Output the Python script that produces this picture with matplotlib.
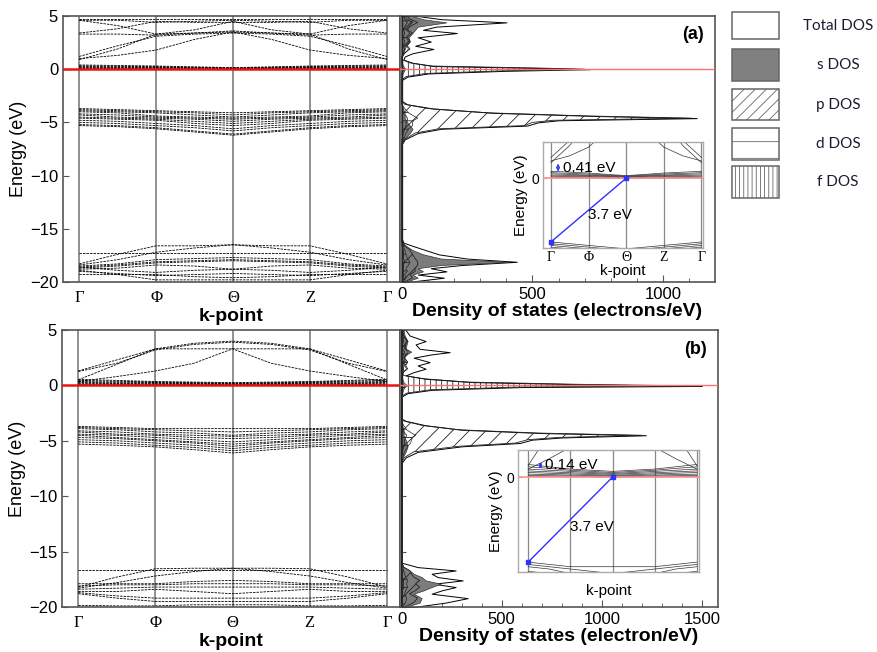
import numpy as np
import matplotlib
matplotlib.use("Agg")
import matplotlib.pyplot as plt
from matplotlib.patches import Rectangle

plt.rcParams["font.family"] = ["Liberation Sans", "DejaVu Sans"]
plt.rcParams["hatch.linewidth"] = 0.6

# k-path
kpath = [0, 0.5, 1, 1.5, 2, 2.5, 3, 3.5, 4]
klabels = ["\u0393", "\u03a6", "\u0398", "Z", "\u0393"]
kticks = [0, 1, 2, 3, 4]

# band energies (eV) along the path, panel (a)
bands_a = [
    [0.9, 1.9, 3.3, 3.4, 3.5, 3.4, 3.3, 1.9, 0.9],
    [1.2, 2.2, 3.1, 3.3, 3.4, 3.3, 3.1, 2.2, 1.2],
    [1.0, 1.3, 1.8, 2.8, 3.5, 2.8, 1.8, 1.3, 1.0],
    [3.3, 3.3, 3.2, 3.4, 3.6, 3.4, 3.2, 3.3, 3.3],
    [4.6, 4.6, 4.4, 4.5, 4.6, 4.5, 4.4, 4.6, 4.6],
    [4.7, 4.7, 4.7, 4.7, 4.7, 4.7, 4.7, 4.7, 4.7],
    [3.4, 3.8, 4.5, 4.4, 4.4, 4.4, 4.5, 3.8, 3.4],
    [4.6, 4.1, 3.3, 3.7, 4.5, 3.7, 3.3, 4.1, 4.6],
    [0.40, 0.35, 0.30, 0.22, 0.15, 0.22, 0.30, 0.35, 0.40],
    [0.32, 0.28, 0.24, 0.18, 0.12, 0.18, 0.24, 0.28, 0.32],
    [0.25, 0.22, 0.18, 0.14, 0.10, 0.14, 0.18, 0.22, 0.25],
    [0.18, 0.16, 0.14, 0.11, 0.07, 0.11, 0.14, 0.16, 0.18],
    [0.12, 0.10, 0.09, 0.07, 0.04, 0.07, 0.09, 0.10, 0.12],
    [0.06, 0.05, 0.05, 0.03, 0.01, 0.03, 0.05, 0.05, 0.06],
    [0.02, 0.02, 0.01, 0.01, 0.00, 0.01, 0.01, 0.02, 0.02],
    [-3.7, -3.8, -3.9, -4.0, -4.1, -4.0, -3.9, -3.8, -3.7],
    [-3.8, -3.9, -4.0, -4.1, -4.3, -4.1, -4.0, -3.9, -3.8],
    [-3.9, -4.0, -4.1, -4.3, -4.5, -4.3, -4.1, -4.0, -3.9],
    [-4.0, -4.1, -4.4, -4.5, -4.6, -4.5, -4.4, -4.1, -4.0],
    [-4.2, -4.3, -4.5, -4.6, -4.7, -4.6, -4.5, -4.3, -4.2],
    [-4.3, -4.5, -4.6, -4.7, -4.9, -4.7, -4.6, -4.5, -4.3],
    [-4.5, -4.6, -4.7, -4.9, -5.1, -4.9, -4.7, -4.6, -4.5],
    [-4.6, -4.7, -4.8, -5.1, -5.3, -5.1, -4.8, -4.7, -4.6],
    [-4.8, -4.9, -5.1, -5.3, -5.6, -5.3, -5.1, -4.9, -4.8],
    [-5.0, -5.1, -5.3, -5.5, -5.8, -5.5, -5.3, -5.1, -5.0],
    [-5.2, -5.3, -5.5, -5.8, -6.1, -5.8, -5.5, -5.3, -5.2],
    [-5.3, -5.4, -5.6, -5.9, -6.2, -5.9, -5.6, -5.4, -5.3],
    [-17.3, -17.3, -17.3, -17.3, -17.3, -17.3, -17.3, -17.3, -17.3],
    [-18.3, -17.4, -16.6, -16.6, -16.5, -16.6, -16.6, -17.4, -18.3],
    [-18.4, -17.9, -17.2, -16.8, -16.5, -16.8, -17.2, -17.9, -18.4],
    [-18.5, -18.3, -17.9, -17.8, -17.7, -17.8, -17.9, -18.3, -18.5],
    [-18.6, -18.4, -18.1, -18.0, -17.9, -18.0, -18.1, -18.4, -18.6],
    [-18.7, -18.5, -18.2, -18.1, -18.0, -18.1, -18.2, -18.5, -18.7],
    [-18.8, -18.7, -18.4, -18.5, -18.8, -18.5, -18.4, -18.7, -18.8],
    [-18.9, -19.3, -19.8, -19.8, -19.8, -19.8, -19.8, -19.3, -18.9],
    [-19.0, -19.2, -19.4, -19.3, -19.2, -19.3, -19.4, -19.2, -19.0],
    [-19.3, -19.3, -19.3, -19.5, -19.6, -19.5, -19.3, -19.3, -19.3],
    [-18.6, -18.9, -19.1, -18.9, -18.8, -18.9, -19.1, -18.9, -18.6],
]

# band energies (eV), panel (b)
bands_b = [
    [1.25, 2.0, 3.2, 3.7, 3.9, 3.7, 3.2, 2.0, 1.25],
    [0.5, 1.9, 3.3, 3.8, 4.0, 3.8, 3.3, 1.9, 0.5],
    [0.35, 0.8, 1.3, 2.0, 3.3, 2.0, 1.3, 0.8, 0.35],
    [1.3, 2.3, 3.3, 3.3, 3.3, 3.3, 3.3, 2.3, 1.3],
    [0.55, 0.45, 0.35, 0.30, 0.25, 0.30, 0.35, 0.45, 0.55],
    [0.45, 0.38, 0.30, 0.25, 0.20, 0.25, 0.30, 0.38, 0.45],
    [0.35, 0.30, 0.25, 0.20, 0.16, 0.20, 0.25, 0.30, 0.35],
    [0.27, 0.23, 0.19, 0.16, 0.12, 0.16, 0.19, 0.23, 0.27],
    [0.20, 0.17, 0.14, 0.11, 0.08, 0.11, 0.14, 0.17, 0.20],
    [0.13, 0.11, 0.09, 0.07, 0.05, 0.07, 0.09, 0.11, 0.13],
    [0.07, 0.06, 0.05, 0.03, 0.02, 0.03, 0.05, 0.06, 0.07],
    [0.02, 0.02, 0.01, 0.01, 0.00, 0.01, 0.01, 0.02, 0.02],
    [-3.7, -3.8, -3.9, -3.9, -3.9, -3.9, -3.9, -3.8, -3.7],
    [-3.8, -3.9, -4.0, -4.1, -4.2, -4.1, -4.0, -3.9, -3.8],
    [-3.9, -4.0, -4.2, -4.3, -4.5, -4.3, -4.2, -4.0, -3.9],
    [-4.1, -4.2, -4.4, -4.5, -4.6, -4.5, -4.4, -4.2, -4.1],
    [-4.2, -4.4, -4.5, -4.7, -4.8, -4.7, -4.5, -4.4, -4.2],
    [-4.4, -4.5, -4.7, -4.9, -5.1, -4.9, -4.7, -4.5, -4.4],
    [-4.5, -4.7, -4.9, -5.1, -5.3, -5.1, -4.9, -4.7, -4.5],
    [-4.7, -4.8, -5.0, -5.2, -5.5, -5.2, -5.0, -4.8, -4.7],
    [-4.9, -5.0, -5.2, -5.4, -5.7, -5.4, -5.2, -5.0, -4.9],
    [-5.1, -5.2, -5.4, -5.6, -5.9, -5.6, -5.4, -5.2, -5.1],
    [-5.3, -5.4, -5.55, -5.8, -6.1, -5.8, -5.55, -5.4, -5.3],
    [-16.7, -16.7, -16.7, -16.7, -16.7, -16.7, -16.7, -16.7, -16.7],
    [-18.2, -17.3, -16.55, -16.5, -16.5, -16.5, -16.55, -17.3, -18.2],
    [-18.3, -17.8, -17.2, -16.8, -16.5, -16.8, -17.2, -17.8, -18.3],
    [-17.9, -17.9, -17.9, -17.7, -17.6, -17.7, -17.9, -17.9, -17.9],
    [-18.1, -18.0, -18.0, -17.9, -17.9, -17.9, -18.0, -18.0, -18.1],
    [-18.4, -18.3, -18.2, -18.2, -18.2, -18.2, -18.2, -18.3, -18.4],
    [-18.6, -18.6, -18.4, -18.6, -18.8, -18.6, -18.4, -18.6, -18.6],
    [-18.8, -19.2, -19.5, -19.5, -19.5, -19.5, -19.5, -19.2, -18.8],
    [-18.7, -19.0, -19.2, -19.2, -19.2, -19.2, -19.2, -19.0, -18.7],
    [-19.85, -19.9, -19.9, -19.8, -19.8, -19.8, -19.9, -19.9, -19.85],
]

# DOS (states/eV) on an energy grid, panel (a)
E_a = [-20.0, -19.6, -19.3, -19.0, -18.7, -18.4, -18.1, -17.8, -17.4, -17.0, -16.6, -16.3,
       -16.0, -7.0, -6.6, -6.0, -5.6, -5.3, -5.0, -4.8, -4.6, -4.4, -4.1, -3.7, -3.3, -3.0,
       -1.0, -0.7, -0.4, -0.15, 0.0, 0.1, 0.3, 0.6, 0.9, 1.2, 1.5, 1.9, 2.2, 2.6, 3.0,
       3.4, 3.7, 4.0, 4.4, 4.7, 5.0]
tot_a = [20, 160, 60, 170, 110, 230, 440, 250, 140, 90, 40, 5,
         0, 0, 10, 60, 150, 480, 520, 600, 1130, 750, 350, 120, 20, 0,
         0, 20, 100, 400, 720, 560, 120, 40, 5, 10, 40, 120, 50, 110, 60,
         210, 80, 130, 400, 150, 60]
s_a = [10, 60, 40, 80, 60, 150, 410, 150, 80, 40, 15, 0,
       0, 0, 5, 30, 40, 30, 20, 15, 10, 10, 5, 0, 0, 0,
       0, 0, 0, 0, 0, 0, 0, 0, 0, 0, 5, 10, 15, 30, 25,
       40, 50, 60, 170, 80, 40]
p_a = [10, 40, 30, 50, 50, 60, 60, 50, 40, 30, 10, 0,
       0, 0, 10, 50, 140, 470, 500, 580, 1110, 720, 330, 100, 10, 0,
       0, 0, 0, 5, 10, 5, 0, 0, 0, 0, 10, 30, 20, 30, 20,
       40, 20, 30, 60, 30, 20]
d_a = [5, 15, 10, 20, 15, 25, 30, 20, 15, 10, 5, 0,
       0, 0, 5, 15, 25, 40, 40, 45, 60, 45, 25, 10, 0, 0,
       0, 0, 5, 10, 15, 10, 5, 0, 0, 0, 10, 25, 15, 25, 15,
       30, 15, 25, 40, 20, 10]
f_a = [0, 5, 5, 5, 5, 5, 10, 5, 5, 5, 0, 0,
       0, 0, 0, 5, 10, 15, 15, 20, 20, 15, 10, 5, 0, 0,
       0, 15, 90, 390, 700, 540, 110, 30, 0, 0, 5, 10, 5, 10, 5,
       10, 5, 10, 20, 10, 5]

# DOS, panel (b)
E_b = [-20.0, -19.6, -19.2, -18.8, -18.5, -18.2, -17.9, -17.6, -17.3, -17.0, -16.7, -16.4,
       -16.0, -7.0, -6.5, -6.0, -5.5, -5.2, -4.9, -4.7, -4.5, -4.3, -4.0, -3.6, -3.2, -3.0,
       -1.0, -0.7, -0.4, -0.15, -0.05, 0.1, 0.3, 0.6, 0.9, 1.2, 1.5, 1.8, 2.1, 2.5, 2.8,
       3.0, 3.3, 3.7, 4.0, 4.5, 5.0]
tot_b = [60, 220, 330, 150, 200, 270, 160, 305, 180, 150, 270, 80,
         0, 0, 20, 80, 300, 590, 650, 800, 1220, 700, 300, 120, 20, 0,
         0, 30, 150, 600, 1500, 900, 350, 120, 20, 60, 120, 80, 140, 60, 150,
         240, 90, 70, 120, 40, 20]
s_b = [20, 90, 100, 60, 110, 150, 195, 120, 100, 60, 40, 10,
       0, 0, 5, 20, 30, 25, 20, 15, 10, 10, 5, 0, 0, 0,
       0, 0, 0, 0, 0, 0, 0, 0, 0, 0, 5, 10, 15, 10, 20,
       30, 20, 25, 30, 15, 10]
p_b = [15, 60, 80, 40, 70, 90, 70, 90, 60, 50, 40, 10,
       0, 0, 15, 60, 280, 570, 630, 780, 1200, 680, 280, 100, 10, 0,
       0, 0, 5, 10, 20, 10, 5, 0, 0, 10, 30, 20, 30, 15, 30,
       50, 20, 20, 30, 10, 5]
d_b = [5, 20, 25, 15, 20, 30, 25, 30, 20, 15, 10, 5,
       0, 0, 5, 15, 30, 45, 50, 55, 70, 50, 25, 10, 0, 0,
       0, 5, 10, 20, 30, 20, 10, 5, 0, 10, 25, 15, 30, 10, 25,
       40, 15, 15, 25, 10, 5]
f_b = [0, 5, 5, 5, 5, 10, 10, 10, 5, 5, 5, 0,
       0, 0, 0, 5, 10, 15, 15, 20, 25, 15, 10, 5, 0, 0,
       0, 25, 140, 580, 1480, 880, 330, 110, 10, 5, 10, 5, 10, 5, 10,
       15, 5, 5, 10, 5, 5]

# gap annotations: (label, vbm k, vbm E, cbm k, cbm E)
gap_a = ("3.7 eV", 0, -3.7, 2, 0.0)
gap_b = ("3.7 eV", 0, -3.7, 2, 0.0)
small_gap_a = ("0.41 eV", 0.19, 0.38, 0.85)
small_gap_b = ("0.14 eV", 0.28, 0.48, 0.56)

legend_labels = ["Total DOS", "s DOS", "p DOS", "d DOS", "f DOS"]

W, H = 878, 652
fig = plt.figure(figsize=(W / 100, H / 100), dpi=100)


def box(x0, y0, x1, y1):
    return [x0 / W, 1 - y1 / H, (x1 - x0) / W, (y1 - y0) / H]


SP = "#555555"
SERIF = ["Liberation Serif", "DejaVu Serif"]


def style_spines(ax, c=SP, lw=1.2):
    for s in ax.spines.values():
        s.set_color(c)
        s.set_linewidth(lw)


def band_panel(ax, bands, inset=False):
    for k in kticks:
        ax.axvline(k, color="#888888", lw=1.3 if not inset else 0.9, zorder=1)
    for b in bands:
        if inset:
            ax.plot(kpath, b, color="#333333", lw=0.5, zorder=2)
        else:
            ax.plot(kpath, b, color="k", lw=0.6, ls=(0, (3, 1.2)), zorder=2)
    ax.axhline(0, color="#ee1111" if not inset else "#ff9090",
               lw=1.8 if not inset else 1.2, zorder=3)


def dos_panel(ax, E, tot, s, p, d, f):
    ax.fill_betweenx(E, 0, tot, facecolor="white", edgecolor="k", lw=0.7, zorder=2)
    ax.fill_betweenx(E, 0, s, facecolor="#7c7c7c", edgecolor="#333333", lw=0.5, zorder=3)
    ax.fill_betweenx(E, 0, p, facecolor="none", edgecolor="#222222", hatch="//", lw=0.6, zorder=4)
    ax.fill_betweenx(E, 0, d, facecolor="none", edgecolor="#222222", hatch="--", lw=0.5, zorder=4)
    ax.fill_betweenx(E, 0, f, facecolor="none", edgecolor="#222222", hatch="|||", lw=0.6, zorder=5)
    ax.axhline(0, color="#ff7070", lw=1.0, zorder=6)


def main_band_axes(rect, bands):
    ax = fig.add_axes(rect)
    band_panel(ax, bands)
    ax.set_xlim(-0.21, 4.17)
    ax.set_ylim(-20, 5)
    ax.set_yticks([5, 0, -5, -10, -15, -20])
    ax.set_xticks(kticks)
    ax.set_xticklabels(klabels, family=SERIF, fontsize=12)
    ax.tick_params(axis="x", length=0, pad=6)
    ax.tick_params(axis="y", direction="in", length=4, labelsize=12, color=SP)
    ax.set_xlabel("k-point", fontsize=14, fontweight="bold", labelpad=1)
    ax.set_ylabel("Energy (eV)", fontsize=13, labelpad=2)
    style_spines(ax)
    return ax


def main_dos_axes(rect, E, tot, s, p, d, f, xmax, xlabel, tag):
    ax = fig.add_axes(rect)
    dos_panel(ax, E, tot, s, p, d, f)
    ax.set_ylim(-20, 5)
    ax.set_xlim(-8, xmax)
    ax.set_yticks([5, 0, -5, -10, -15, -20])
    ax.set_yticklabels([])
    ax.set_xticks(np.arange(0, xmax, 500))
    ax.set_xticks(np.arange(0, xmax, 100), minor=True)
    ax.tick_params(axis="y", direction="in", length=4, color=SP)
    ax.tick_params(axis="x", which="both", direction="in", color=SP, labelsize=12)
    ax.tick_params(axis="x", which="minor", length=3)
    ax.tick_params(axis="x", which="major", length=5)
    ax.set_xlabel(xlabel, fontsize=14, fontweight="bold", labelpad=1)
    ax.text(0.965, 0.93, tag, transform=ax.transAxes, ha="right", va="center",
            fontsize=13, fontweight="bold")
    style_spines(ax)
    return ax


def inset_axes(rect, bands, ylim, xlim, gap, small, show_k):
    ax = fig.add_axes(rect)
    band_panel(ax, bands, inset=True)
    ax.set_xlim(*xlim)
    ax.set_ylim(*ylim)
    ax.set_yticks([0])
    ax.tick_params(axis="y", direction="in", length=3, labelsize=10, color="#999999", pad=3)
    ax.set_xticks(kticks)
    if show_k:
        ax.set_xticklabels(klabels, family=SERIF, fontsize=10)
    else:
        ax.set_xticklabels([])
    ax.tick_params(axis="x", length=0, pad=2)
    ax.set_xlabel("k-point", fontsize=11, labelpad=0 if show_k else 7)
    ax.set_ylabel("Energy (eV)", fontsize=11, labelpad=2)
    style_spines(ax, "#aaaaaa", 1.0)
    label, k0, e0, k1, e1 = gap
    ax.plot([k0, k1], [e0, e1], color="#3030ff", lw=1.0, marker="s", ms=2.2, zorder=5)
    ax.text(0.47 * (k0 + k1) + 0.05, (e0 + e1) / 2 - 0.3, label, fontsize=11, ha="left", va="center")
    slabel, ks, elo, ehi = small
    if ehi - elo > 0.2:
        ax.annotate("", xy=(ks, ehi), xytext=(ks, elo),
                    arrowprops=dict(arrowstyle="<->", color="#3030ff", lw=0.9,
                                    mutation_scale=5, shrinkA=0, shrinkB=0))
    else:
        ax.plot([ks, ks], [elo, ehi], color="#3030ff", lw=2.0)
    ax.text(ks + 0.12, (elo + ehi) / 2, slabel, fontsize=11, ha="left", va="center")
    return ax


main_band_axes(box(63, 16, 400, 282), bands_a)
main_dos_axes(box(400, 16, 715, 282), E_a, tot_a, s_a, p_a, d_a, f_a, 1200,
              "Density of states (electrons/eV)", "(a)")
inset_axes(box(543, 142, 703, 248), bands_a, (-4.05, 2.1), (-0.21, 4.04),
           gap_a, small_gap_a, True)

main_band_axes(box(62, 330, 400, 607), bands_b)
main_dos_axes(box(400, 330, 718, 607), E_b, tot_b, s_b, p_b, d_b, f_b, 1580,
              "Density of states (electron/eV)", "(b)")
inset_axes(box(518, 450, 699, 572), bands_b, (-4.13, 1.18), (-0.24, 4.05),
           gap_b, small_gap_b, False)

# legend column
leg = fig.add_axes(box(720, 0, 878, 205))
leg.set_xlim(720, 878)
leg.set_ylim(205, 0)
leg.axis("off")
leg_y = [12, 49, 89, 128, 166]
leg_h = [27, 32, 31, 32, 32]
leg_style = [
    dict(facecolor="white"),
    dict(facecolor="#808080"),
    dict(facecolor="white", hatch="///"),
    dict(facecolor="white", hatch="-"),
    dict(facecolor="white", hatch="||||"),
]
for y, h, st, lab in zip(leg_y, leg_h, leg_style, legend_labels):
    leg.add_patch(Rectangle((732, y), 47, h, edgecolor="#666666", lw=1.1, **st))
    leg.text(838, y + h / 2, lab, ha="center", va="center", fontsize=11,
             family=["Lato", "DejaVu Sans"], color="#1c1c30")

fig.savefig("out.png", dpi=100)
